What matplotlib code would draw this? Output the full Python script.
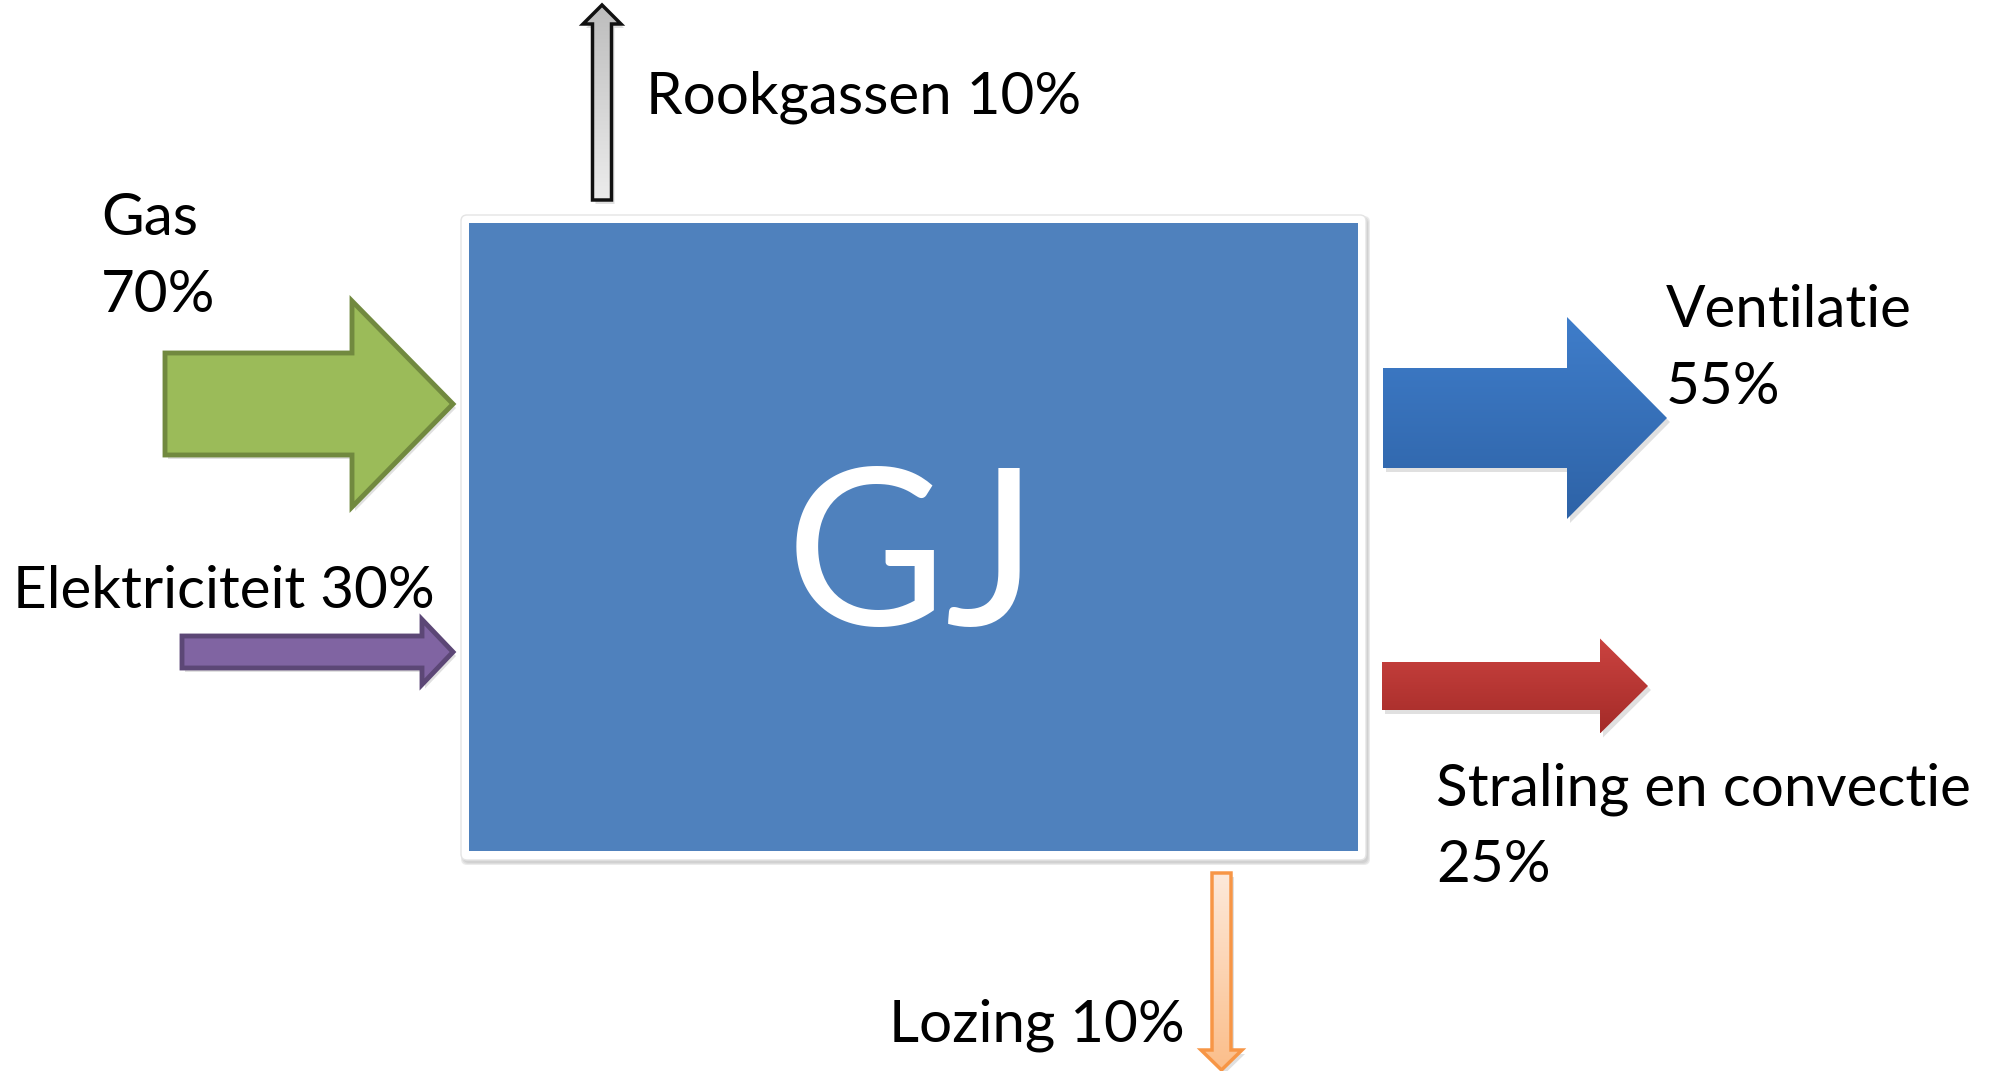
import numpy as np
import matplotlib
matplotlib.use('Agg')
import matplotlib.pyplot as plt
from matplotlib.patches import Polygon, Rectangle, FancyBboxPatch

# energy balance (percent of total)
inputs = ['Gas', 'Elektriciteit']
input_pct = [70, 30]
outputs = ['Ventilatie', 'Straling en convectie', 'Rookgassen', 'Lozing']
output_pct = [55, 25, 10, 10]
centre_label = 'GJ'

W, H = 1997, 1071
fig = plt.figure(figsize=(W / 100, H / 100), dpi=100)
ax = fig.add_axes([0, 0, 1, 1])
ax.set_xlim(0, W)
ax.set_ylim(H, 0)
ax.axis('off')

plt.rcParams['font.family'] = ['Lato', 'DejaVu Sans']
FS = 42


def arrow_pts(direction, tail, tip, centre, shaft, head, head_len):
    # polygon in (along, across) then map to x/y
    s = 1 if tip > tail else -1
    hb = tip - s * head_len
    pts = [(tail, centre - shaft / 2), (hb, centre - shaft / 2), (hb, centre - head / 2),
           (tip, centre), (hb, centre + head / 2), (hb, centre + shaft / 2), (tail, centre + shaft / 2)]
    if direction == 'h':
        return pts
    return [(c, a) for a, c in pts]


def draw_arrow(pts, face=None, grad=None, edge=None, lw=0, shadow=True, z=3):
    if shadow:
        sh = Polygon([(x + 3, y + 4) for x, y in pts], closed=True, fc='#000000', ec='none',
                     alpha=0.12, zorder=z - 1)
        ax.add_patch(sh)
    p = Polygon(pts, closed=True, fc=face if face else 'none',
                ec=edge if edge else 'none', lw=lw, zorder=z + 1)
    ax.add_patch(p)
    if grad is not None:
        xs = [q[0] for q in pts]
        ys = [q[1] for q in pts]
        c0 = np.array(matplotlib.colors.to_rgb(grad[0]))
        c1 = np.array(matplotlib.colors.to_rgb(grad[1]))
        t = np.linspace(0, 1, 64)[:, None]
        img = (c0 * (1 - t) + c1 * t)[:, None, :]
        im = ax.imshow(img, extent=(min(xs), max(xs), max(ys), min(ys)), aspect='auto',
                       zorder=z, interpolation='bilinear')
        clip = Polygon(pts, closed=True, fc='none', ec='none', transform=ax.transData)
        ax.add_patch(clip)
        im.set_clip_path(clip)
    return p


# central block with white frame and soft shadow
for k, a in enumerate([0.05, 0.06, 0.08]):
    ax.add_patch(FancyBboxPatch((461 + 2 - k, 215 + 3 - k), 905 + 2 * k, 645 + 2 * k,
                                boxstyle='round,pad=0,rounding_size=6', fc='#000000',
                                ec='none', alpha=a, zorder=1))
ax.add_patch(FancyBboxPatch((461, 215), 905, 645, boxstyle='round,pad=0,rounding_size=6',
                            fc='white', ec='#e4e4e4', lw=1, zorder=2))
ax.add_patch(Rectangle((469, 223), 889, 628, fc='#4F81BD', ec='none', zorder=3))
ax.text(912, 625, centre_label, color='white', fontsize=158, ha='center', va='baseline', zorder=5)

# incoming
draw_arrow(arrow_pts('h', 165, 453, 404, 102, 206, 101), face='#9BBB59', edge='#71893F', lw=3.5)
draw_arrow(arrow_pts('h', 182, 453, 652, 32, 65, 31), face='#8064A2', edge='#5C4776', lw=3.5)

# outgoing
draw_arrow(arrow_pts('h', 1383, 1667, 418, 100, 202, 100), grad=('#3F7DCA', '#2E63A7'))
draw_arrow(arrow_pts('h', 1382, 1648, 686, 48, 95, 48), grad=('#CB4340', '#A42B28'))
draw_arrow(arrow_pts('v', 200, 5, 602, 19, 38, 19), grad=('#bdbdbd', '#ececec'),
           edge='#111111', lw=2.5)
draw_arrow(arrow_pts('v', 873, 1070, 1221.5, 19, 41, 20), grad=('#FDE9DA', '#FBBE8A'),
           edge='#F79646', lw=2.5)

# labels
ax.text(101, 235, inputs[0], fontsize=FS, va='baseline')
ax.text(101, 312, f'{input_pct[0]}%', fontsize=FS, va='baseline')
ax.text(13, 608, f'{inputs[1]} {input_pct[1]}%', fontsize=FS, va='baseline')
ax.text(1666, 327, outputs[0], fontsize=FS, va='baseline')
ax.text(1666, 404, f'{output_pct[0]}%', fontsize=FS, va='baseline')
ax.text(1436, 805, outputs[1], fontsize=FS, va='baseline')
ax.text(1436, 882, f'{output_pct[1]}%', fontsize=FS, va='baseline')
ax.text(646, 113, f'{outputs[2]} {output_pct[2]}%', fontsize=FS, va='baseline')
ax.text(889, 1042, f'{outputs[3]} {output_pct[3]}%', fontsize=FS, va='baseline')

fig.savefig('out.png', dpi=100, facecolor='white')
